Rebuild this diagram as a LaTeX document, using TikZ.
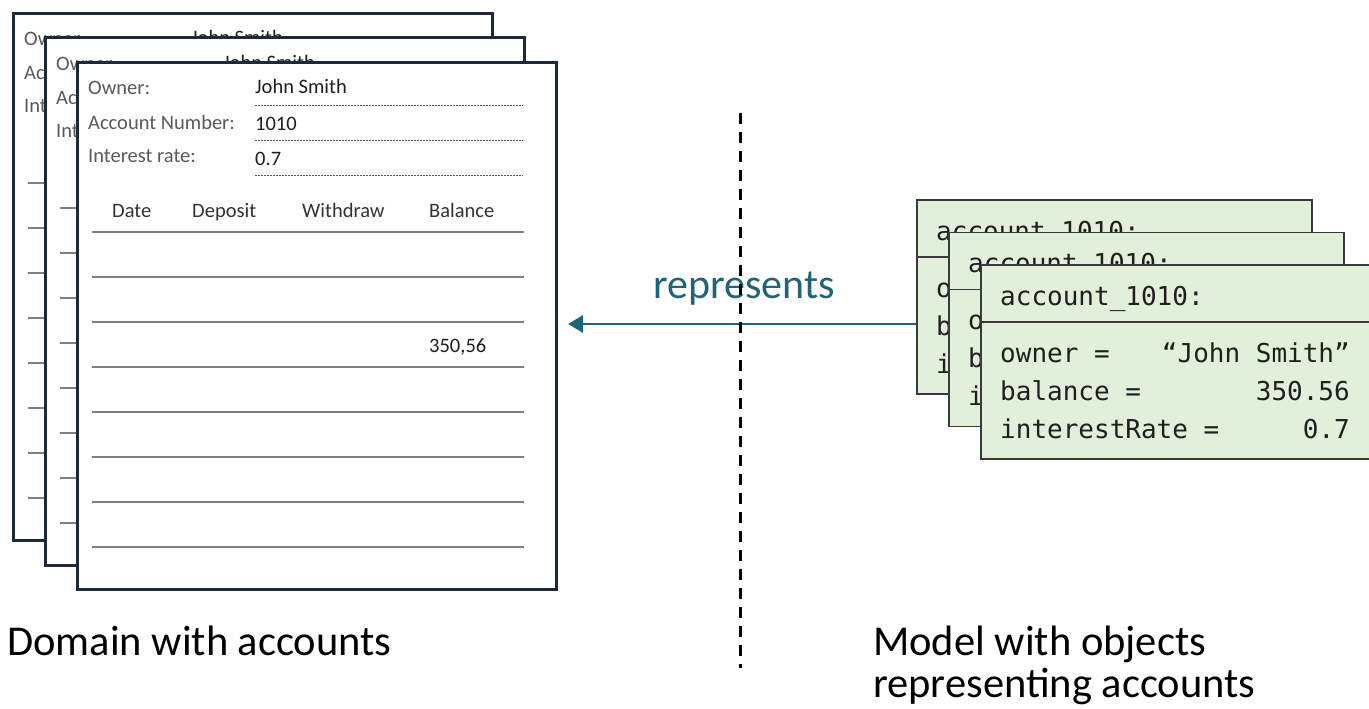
\documentclass[tikz,border=0pt]{standalone}
\usepackage{fontspec}
\setmainfont{Carlito}
\newfontfamily\monof{DejaVu Sans Mono}
\usetikzlibrary{arrows.meta}
\definecolor{docborder}{HTML}{1E2A3A}
\definecolor{labelgray}{HTML}{595959}
\definecolor{valuegray}{HTML}{1F1F1F}
\definecolor{headgray}{HTML}{333333}
\definecolor{rowgray}{HTML}{808080}
\definecolor{objfill}{HTML}{E2EFDA}
\definecolor{objborder}{HTML}{3A3A3A}
\definecolor{teal}{HTML}{1F6478}
\tikzset{
  docframe/.style={draw=docborder, line width=3pt, fill=white, inner sep=0pt,
    minimum width=479pt, minimum height=527pt, anchor=north west},
  docfont/.style={font=\fontsize{20.5}{24}\selectfont},
  doclabel/.style={docfont, anchor=base west, inner sep=0pt, text=labelgray},
  docvalue/.style={docfont, anchor=base west, inner sep=0pt, text=valuegray},
  dochead/.style={docfont, anchor=base west, inner sep=0pt, text=headgray},
  fieldline/.style={draw=labelgray, line width=0.9pt, dash pattern=on 2pt off 1pt},
  rowline/.style={draw=rowgray, line width=2pt},
  objframe/.style={draw=objborder, line width=1.5pt, fill=objfill, inner sep=0pt,
    minimum width=395pt, minimum height=194pt, anchor=north west},
  objline/.style={draw=objborder, line width=1.5pt},
  monotext/.style={font=\monof\fontsize{26}{30}\selectfont, inner sep=0pt, text=valuegray},
  monol/.style={monotext, anchor=base west},
  monor/.style={monotext, anchor=base east},
  sepline/.style={draw=black, line width=3pt, dash pattern=on 11pt off 8pt},
  reprarrow/.style={draw=teal, line width=2.5pt, -{Triangle[length=15pt,width=17pt]}},
  reprlabel/.style={font=\fontsize{42}{48}\selectfont, text=teal, anchor=base west, inner sep=0pt},
  caption/.style={font=\fontsize{42.5}{48}\selectfont, text=black, anchor=base west, inner sep=0pt},
  accountdoc/.pic={
    \node[docframe] (-frame) at (0,0) {};
    \node[doclabel] (-ownerl) at (12,34) {Owner:};
    \node[doclabel] (-accl) at (12,68) {Account Number:};
    \node[doclabel] (-intl) at (12,101) {Interest rate:};
    \node[docvalue] (-ownerv) at (179,33) {John Smith};
    \node[docvalue] (-accv) at (179,70) {1010};
    \node[docvalue] (-intv) at (179,104) {0.7};
    \draw[fieldline] (179,44) -- (447,44);
    \draw[fieldline] (179,79) -- (447,79);
    \draw[fieldline] (179,114) -- (447,114);
    \node[dochead] (-date) at (36,156) {Date};
    \node[dochead] (-dep) at (116,156) {Deposit};
    \node[dochead] (-wd) at (226,156) {Withdraw};
    \node[dochead] (-bal) at (353,156) {Balance};
    \foreach \k in {0,...,7} { \draw[rowline] (16,171+45*\k) -- (448,171+45*\k); }
    \node[docvalue] (-balv) at (353,291) {350,56};
  },
  accountobj/.pic={
    \node[objframe] (-frame) at (0,0) {};
    \draw[objline] (0,58) -- (395,58);
    \node[monol] (-head) at (20,41) {account\string_1010:};
    \node[monol] (-k1) at (20,98) {owner =};
    \node[monor] (-v1) at (370,98) {“John Smith”};
    \node[monol] (-k2) at (20,136) {balance =};
    \node[monor] (-v2) at (370,136) {350.56};
    \node[monol] (-k3) at (20,174) {interestRate =};
    \node[monor] (-v3) at (370,174) {0.7};
  }
}
\begin{document}
\begin{tikzpicture}[x=1pt, y=-1pt]
  \useasboundingbox[fill=white] (0,0) rectangle (1369,709);
  % documents
  \pic (d1) at (12,12) {accountdoc};
  \pic (d2) at (44,36.5) {accountdoc};
  \pic (d3) at (76,61) {accountdoc};
  % objects
  \pic (o1) at (916,199) {accountobj};
  \pic (o2) at (948,231.5) {accountobj};
  \pic (o3) at (980,264) {accountobj};
  % arrow
  \coordinate (tip) at (568,324);
  \draw[reprarrow] (o1-frame.west |- tip) -- (tip);
  \node[reprlabel] (repr) at (653,298) {represents};
  % separator
  \coordinate (vtop) at (740,113);
  \coordinate (vbot) at (740,668);
  \draw[sepline] (vtop) -- (vbot);
  % captions
  \node[caption] (dom) at (7,655) {Domain with accounts};
  \node[caption] (mod1) at (873,655) {Model with objects};
  \node[caption] (mod2) at (873,697) {representing accounts};
\end{tikzpicture}
\end{document}
